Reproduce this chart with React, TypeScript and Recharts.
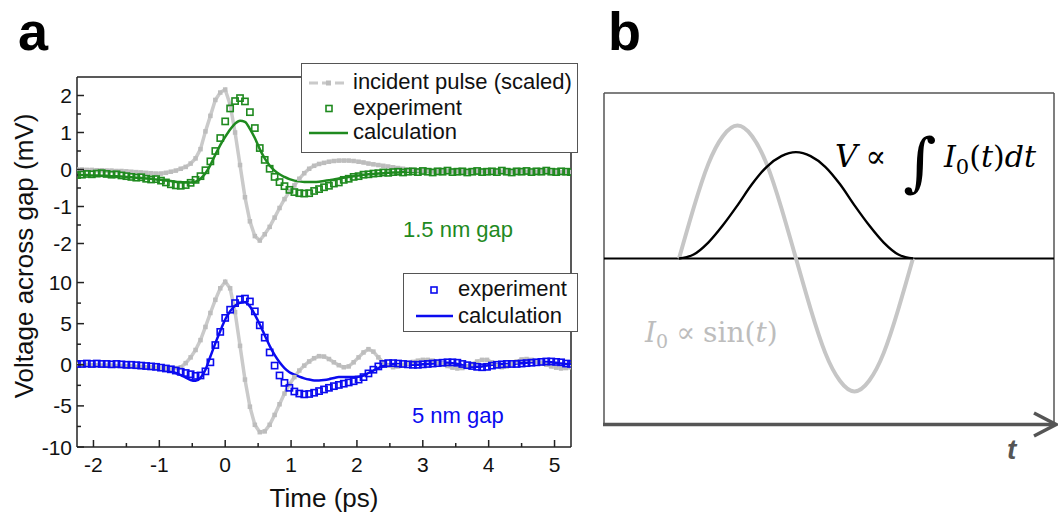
import React from "react";
import { ComposedChart, LineChart, Line, XAxis, YAxis, ReferenceLine, Legend } from "recharts";

const SANS = '"Liberation Sans", Arial, Helvetica, sans-serif';
const MATH = '"DejaVu Serif", "Liberation Serif", serif';
const GREEN = "#1f8a1f";
const BLUE = "#0b0bef";
const GREY_LINE = "#cacaca";
const GREY_DOT = "#bdbdbd";
const INK = "#222";

// time axis shared by all traces of panel a (ps)
const timePs = [
  -2.25, -2.175, -2.1, -2.025, -1.95, -1.875, -1.8, -1.725, -1.65, -1.575,
  -1.5, -1.425, -1.35, -1.275, -1.2, -1.125, -1.05, -0.975, -0.9, -0.825,
  -0.75, -0.675, -0.6, -0.525, -0.45, -0.375, -0.3, -0.225, -0.15, -0.075,
  0, 0.075, 0.15, 0.225, 0.3, 0.375, 0.45, 0.525, 0.6, 0.675,
  0.75, 0.825, 0.9, 0.975, 1.05, 1.125, 1.2, 1.275, 1.35, 1.425,
  1.5, 1.575, 1.65, 1.725, 1.8, 1.875, 1.95, 2.025, 2.1, 2.175,
  2.25, 2.325, 2.4, 2.475, 2.55, 2.625, 2.7, 2.775, 2.85, 2.925,
  3, 3.075, 3.15, 3.225, 3.3, 3.375, 3.45, 3.525, 3.6, 3.675,
  3.75, 3.825, 3.9, 3.975, 4.05, 4.125, 4.2, 4.275, 4.35, 4.425,
  4.5, 4.575, 4.65, 4.725, 4.8, 4.875, 4.95, 5.025, 5.1, 5.175,
  5.25,
];

// 1.5 nm gap (mV)
const incident15 = [
  0, 0, -0.01, -0.01, -0.02, -0.02, -0.03, -0.03, -0.04, -0.04,
  -0.05, -0.06, -0.07, -0.08, -0.09, -0.1, -0.11, -0.11, -0.09, -0.06,
  -0.03, 0.02, 0.07, 0.16, 0.3, 0.55, 1.03, 1.45, 1.88, 2.08,
  2.16, 1.75, 1.0, 0.12, -0.75, -1.4, -1.8, -1.92, -1.75, -1.55,
  -1.3, -1.04, -0.8, -0.6, -0.43, -0.25, -0.1, 0.02, 0.1, 0.15,
  0.18, 0.21, 0.23, 0.24, 0.24, 0.24, 0.23, 0.21, 0.19, 0.16,
  0.14, 0.12, 0.1, 0.08, 0.06, 0.04, 0.02, 0, -0.01, -0.02,
  -0.03, -0.03, -0.04, -0.04, -0.05, -0.05, -0.04, -0.04, -0.05, -0.06,
  -0.05, -0.04, -0.04, -0.05, -0.05, -0.06, -0.06, -0.05, -0.05, -0.04,
  -0.05, -0.06, -0.07, -0.06, -0.05, -0.05, -0.06, -0.07, -0.07, -0.06,
  -0.06,
];
const experiment15 = [
  -0.15, -0.14, -0.12, -0.13, -0.11, -0.1, -0.12, -0.14, -0.13, -0.16,
  -0.18, -0.2, -0.22, -0.21, -0.25, -0.27, -0.26, -0.3, -0.35, -0.4,
  -0.43, -0.44, -0.42, -0.36, -0.28, -0.18, -0.02, 0.22, 0.5, 0.85,
  1.3, 1.65, 1.85, 1.93, 1.84, 1.55, 1.12, 0.58, 0.26, 0.02,
  -0.2, -0.34, -0.45, -0.55, -0.61, -0.64, -0.65, -0.64, -0.58, -0.53,
  -0.48, -0.44, -0.38, -0.35, -0.28, -0.25, -0.2, -0.18, -0.14, -0.13,
  -0.11, -0.1, -0.08, -0.09, -0.07, -0.06, -0.08, -0.06, -0.05, -0.07,
  -0.04, -0.06, -0.08, -0.05, -0.06, -0.03, -0.07, -0.06, -0.05, -0.08,
  -0.06, -0.04, -0.07, -0.06, -0.05, -0.07, -0.03, -0.06, -0.08, -0.05,
  -0.06, -0.04, -0.07, -0.05, -0.06, -0.03, -0.06, -0.07, -0.05, -0.06,
  -0.07,
];
const calculation15 = [
  -0.15, -0.15, -0.15, -0.16, -0.16, -0.17, -0.17, -0.18, -0.18, -0.19,
  -0.2, -0.21, -0.22, -0.23, -0.24, -0.25, -0.27, -0.28, -0.3, -0.31,
  -0.33, -0.34, -0.35, -0.35, -0.33, -0.25, -0.1, 0.12, 0.4, 0.66,
  0.88, 1.08, 1.24, 1.32, 1.29, 1.1, 0.85, 0.55, 0.3, 0.11,
  -0.03, -0.13, -0.2, -0.26, -0.3, -0.32, -0.34, -0.34, -0.34, -0.33,
  -0.31, -0.29, -0.27, -0.24, -0.22, -0.2, -0.18, -0.16, -0.14, -0.13,
  -0.12, -0.11, -0.1, -0.09, -0.08, -0.08, -0.07, -0.07, -0.07, -0.07,
  -0.07, -0.07, -0.07, -0.07, -0.07, -0.07, -0.07, -0.07, -0.07, -0.07,
  -0.07, -0.07, -0.07, -0.07, -0.07, -0.07, -0.07, -0.07, -0.07, -0.07,
  -0.07, -0.07, -0.07, -0.07, -0.07, -0.07, -0.07, -0.07, -0.07, -0.07,
  -0.07,
];

// 5 nm gap (mV)
const incident5 = [
  0, 0, 0, -0.05, -0.05, -0.1, -0.1, -0.1, -0.15, -0.15,
  -0.2, -0.2, -0.25, -0.25, -0.3, -0.3, -0.35, -0.4, -0.45, -0.45,
  -0.4, -0.3, 0.2, 0.9, 1.8, 3.0, 4.6, 6.3, 7.9, 9.3,
  10.1, 9.3, 6.4, 2.3, -1.8, -5.1, -7.3, -8.2, -8.1, -7.3,
  -6.1, -4.8, -3.5, -2.4, -1.5, -0.7, -0.1, 0.4, 0.8, 1.05,
  1.0, 0.7, 0.3, -0.05, -0.3, -0.2, 0.3, 0.9, 1.5, 1.9,
  1.6, 0.9, 0.3, -0.1, -0.3, -0.2, 0, 0.2, 0.35, 0.5,
  0.6, 0.6, 0.5, 0.3, 0.1, -0.15, -0.35, -0.45, -0.4, -0.2,
  0.1, 0.4, 0.6, 0.6, 0.3, -0.1, -0.3, -0.2, 0.1, 0.4,
  0.65, 0.7, 0.6, 0.4, 0.2, 0, -0.2, -0.35, -0.45, -0.4,
  -0.3,
];
const experiment5 = [
  0.1, 0.1, 0.15, 0.1, 0.15, 0.1, 0.1, 0.05, 0.1, 0.05,
  0, 0, -0.05, -0.1, -0.15, -0.2, -0.25, -0.35, -0.45, -0.55,
  -0.7, -0.85, -1.0, -1.15, -1.35, -1.3, -0.8, 0.3, 2.4, 4.0,
  5.7, 6.7, 7.5, 7.95, 8.05, 7.7, 6.5, 4.8, 3.3, 1.5,
  -0.1, -1.3, -2.2, -2.8, -3.25, -3.5, -3.6, -3.55, -3.4, -3.2,
  -3.0, -2.8, -2.6, -2.45, -2.3, -2.15, -2.0, -1.8, -1.5, -1.05,
  -0.6, -0.2, 0.1, 0.2, 0.2, 0.15, 0.1, 0.05, 0, 0,
  0.05, 0.1, 0.15, 0.2, 0.25, 0.3, 0.3, 0.25, 0.1, -0.05,
  -0.15, -0.25, -0.3, -0.25, -0.1, 0, 0.05, 0.1, 0.1, 0.1,
  0.15, 0.2, 0.25, 0.3, 0.35, 0.4, 0.4, 0.35, 0.3, 0.15,
  0.1,
];
const calculation5 = [
  0, 0, 0, 0, 0, -0.05, -0.05, -0.05, -0.1, -0.1,
  -0.15, -0.15, -0.2, -0.25, -0.3, -0.35, -0.45, -0.55, -0.65, -0.8,
  -1.0, -1.25, -1.55, -1.85, -1.95, -1.6, -0.6, 1.0, 2.6, 4.1,
  5.5, 6.5, 7.2, 7.55, 7.6, 7.1, 6.1, 4.9, 3.6, 2.3,
  1.2, 0.3, -0.4, -0.9, -1.2, -1.45, -1.65, -1.8, -1.9, -1.9,
  -1.85, -1.75, -1.6, -1.5, -1.5, -1.5, -1.5, -1.45, -1.3, -1.0,
  -0.7, -0.4, -0.15, 0, 0.1, 0.1, 0.05, 0.05, 0, 0,
  0.05, 0.1, 0.15, 0.2, 0.25, 0.25, 0.2, 0.1, -0.05, -0.15,
  -0.25, -0.25, -0.2, -0.1, 0, 0.05, 0.1, 0.1, 0.1, 0.15,
  0.2, 0.25, 0.3, 0.35, 0.35, 0.35, 0.3, 0.25, 0.15, 0.1,
  0.1,
];

const xTicks = [-2, -1.5, -1, -0.5, 0, 0.5, 1, 1.5, 2, 2.5, 3, 3.5, 4, 4.5, 5];
const yTicksTop = [-2, -1.5, -1, -0.5, 0, 0.5, 1, 1.5, 2];
const yTicksBottom = [-10, -7.5, -5, -2.5, 0, 2.5, 5, 7.5, 10];

// panel b schematic: one period of the current and its integral
const phase = [0, 0.0625, 0.125, 0.1875, 0.25, 0.3125, 0.375, 0.4375, 0.5, 0.5625, 0.625, 0.6875, 0.75, 0.8125, 0.875, 0.9375, 1];
const current = [0, 0.38, 0.71, 0.92, 1, 0.92, 0.71, 0.38, 0, -0.38, -0.71, -0.92, -1, -0.92, -0.71, -0.38, 0];
const voltage = [0, 0.03, 0.12, 0.25, 0.4, 0.56, 0.69, 0.77, 0.8, 0.77, 0.69, 0.56, 0.4, 0.25, 0.12, 0.03, 0];

const topData = timePs.map((t, i) => ({ t, inc: incident15[i], exp: experiment15[i], calc: calculation15[i] }));
const bottomData = timePs.map((t, i) => ({ t, inc: incident5[i], exp: experiment5[i], calc: calculation5[i] }));
const schemeData = phase.map((p, i) => ({ p, cur: current[i], volt: voltage[i] }));

const squareDot = (color: string, filled: boolean, size: number) => (props: any) => {
  const { cx, cy, index } = props;
  if (typeof cx !== "number" || typeof cy !== "number") return <g key={`n${index}`} />;
  const h = size / 2;
  return (
    <rect
      key={`s${index}`}
      x={cx - h}
      y={cy - h}
      width={size}
      height={size}
      fill={filled ? color : "none"}
      stroke={filled ? "none" : color}
      strokeWidth={1.6}
    />
  );
};

// inward ticks, labels outside
const xTick = (showLabel: boolean) => (props: any) => {
  const { x, y, payload, index } = props;
  const major = Number.isInteger(payload.value);
  return (
    <g key={`xt${index}`}>
      <line x1={x} x2={x} y1={y} y2={y - (major ? 7 : 4)} stroke={INK} strokeWidth={1.5} />
      {showLabel && major && (
        <text x={x} y={y + 25} textAnchor="middle" fontSize={21} fontFamily={SANS} fill="#111">
          {payload.value}
        </text>
      )}
    </g>
  );
};

const yTick = (isMajor: (v: number) => boolean) => (props: any) => {
  const { x, y, payload, index } = props;
  const major = isMajor(payload.value);
  return (
    <g key={`yt${index}`}>
      <line x1={x} x2={x + (major ? 7 : 4)} y1={y} y2={y} stroke={INK} strokeWidth={1.5} />
      {major && (
        <text x={x - 5} y={y} dy="0.36em" textAnchor="end" fontSize={21} fontFamily={SANS} fill="#111">
          {payload.value}
        </text>
      )}
    </g>
  );
};

const legendText: React.CSSProperties = {
  position: "absolute",
  fontFamily: SANS,
  fontSize: 22,
  lineHeight: "26px",
  color: "#111",
  whiteSpace: "nowrap",
};

const TopLegend = () => (
  <div style={{ position: "relative", width: 277, height: 90, boxSizing: "border-box", border: "1px solid #555", background: "#fff" }}>
    <svg width={50} height={90} style={{ position: "absolute", left: 0, top: 0 }}>
      <line x1={7} x2={46} y1={19} y2={19} stroke={GREY_LINE} strokeWidth={3} strokeDasharray="9 4" />
      <rect x={24} y={16.5} width={5} height={5} fill={GREY_DOT} />
      <rect x={24} y={41.5} width={6} height={6} fill="none" stroke={GREEN} strokeWidth={1.6} />
      <line x1={7} x2={46} y1={69} y2={69} stroke={GREEN} strokeWidth={2.5} />
    </svg>
    <div style={{ ...legendText, left: 51, top: 5 }}>incident pulse (scaled)</div>
    <div style={{ ...legendText, left: 51, top: 31 }}>experiment</div>
    <div style={{ ...legendText, left: 51, top: 55 }}>calculation</div>
  </div>
);

const BottomLegend = () => (
  <div style={{ position: "relative", width: 175, height: 59, boxSizing: "border-box", border: "1px solid #555", background: "#fff" }}>
    <svg width={55} height={59} style={{ position: "absolute", left: 0, top: 0 }}>
      <rect x={27} y={13} width={6} height={6} fill="none" stroke={BLUE} strokeWidth={1.6} />
      <line x1={12} x2={49} y1={42} y2={42} stroke={BLUE} strokeWidth={2.5} />
    </svg>
    <div style={{ ...legendText, left: 54, top: 2 }}>experiment</div>
    <div style={{ ...legendText, left: 54, top: 29 }}>calculation</div>
  </div>
);

const axisLine = { stroke: INK, strokeWidth: 1.5 };

export default function App() {
  return (
    <div style={{ position: "absolute", left: 0, top: 0, width: 1058, height: 515, background: "#fff", overflow: "hidden" }}>
      {/* panel a, top: 1.5 nm gap */}
      <div style={{ position: "absolute", left: 0, top: 0 }}>
        <ComposedChart width={600} height={270} data={topData} margin={{ top: 77, right: 29, bottom: 8, left: 0 }}>
          <XAxis
            dataKey="t"
            type="number"
            domain={[-2.25, 5.25]}
            allowDataOverflow
            ticks={xTicks}
            interval={0}
            height={0}
            tickSize={0}
            tickMargin={0}
            tickLine={false}
            axisLine={axisLine}
            tick={xTick(false)}
          />
          <YAxis
            type="number"
            domain={[-2.5, 2.5]}
            allowDataOverflow
            ticks={yTicksTop}
            interval={0}
            width={77}
            tickSize={0}
            tickMargin={0}
            tickLine={false}
            axisLine={axisLine}
            tick={yTick((v) => Number.isInteger(v))}
          />
          <ReferenceLine y={2.5} stroke={INK} strokeWidth={1.5} />
          <ReferenceLine x={5.25} stroke={INK} strokeWidth={1.5} />
          <Line dataKey="inc" type="linear" stroke={GREY_LINE} strokeWidth={3.5} dot={squareDot(GREY_DOT, true, 4.5)} activeDot={false} isAnimationActive={false} />
          <Line dataKey="calc" type="monotone" stroke={GREEN} strokeWidth={2.5} dot={false} activeDot={false} isAnimationActive={false} />
          <Line dataKey="exp" type="linear" stroke="none" dot={squareDot(GREEN, false, 6.2)} activeDot={false} isAnimationActive={false} />
          <Legend
            layout="vertical"
            align="center"
            verticalAlign="middle"
            wrapperStyle={{ left: 301, top: 63, width: 277, height: 90 }}
            content={() => <TopLegend />}
          />
        </ComposedChart>
      </div>

      {/* panel a, bottom: 5 nm gap */}
      <div style={{ position: "absolute", left: 0, top: 262 }}>
        <ComposedChart width={600} height={253} data={bottomData} margin={{ top: 0, right: 29, bottom: 0, left: 0 }}>
          <XAxis
            dataKey="t"
            type="number"
            domain={[-2.25, 5.25]}
            allowDataOverflow
            ticks={xTicks}
            interval={0}
            height={68}
            tickSize={0}
            tickMargin={0}
            tickLine={false}
            axisLine={axisLine}
            tick={xTick(true)}
            label={{ value: "Time (ps)", position: "insideBottom", offset: 8, fontSize: 26, fontFamily: SANS, fill: "#111" }}
          />
          <YAxis
            type="number"
            domain={[-10, 12.5]}
            allowDataOverflow
            ticks={yTicksBottom}
            interval={0}
            width={77}
            tickSize={0}
            tickMargin={0}
            tickLine={false}
            axisLine={axisLine}
            tick={yTick((v) => v % 5 === 0)}
          />
          <ReferenceLine x={5.25} stroke={INK} strokeWidth={1.5} />
          <Line dataKey="inc" type="linear" stroke={GREY_LINE} strokeWidth={3.5} dot={squareDot(GREY_DOT, true, 4.5)} activeDot={false} isAnimationActive={false} />
          <Line dataKey="calc" type="monotone" stroke={BLUE} strokeWidth={2.5} dot={false} activeDot={false} isAnimationActive={false} />
          <Line dataKey="exp" type="linear" stroke="none" dot={squareDot(BLUE, false, 6.2)} activeDot={false} isAnimationActive={false} />
          <Legend
            layout="vertical"
            align="center"
            verticalAlign="middle"
            wrapperStyle={{ left: 403, top: 11, width: 175, height: 59 }}
            content={() => <BottomLegend />}
          />
        </ComposedChart>
      </div>

      {/* panel b: schematic */}
      <div style={{ position: "absolute", left: 594, top: 83 }}>
        <LineChart width={470} height={351} data={schemeData} margin={{ top: 10, right: 10, bottom: 10, left: 10 }}>
          <XAxis dataKey="p" type="number" domain={[-0.3205, 1.6026]} allowDataOverflow hide />
          <YAxis type="number" domain={[-1.245, 1.245]} allowDataOverflow hide />
          <ReferenceLine x={-0.3205} stroke="#555" strokeWidth={1.5} />
          <ReferenceLine x={1.6026} stroke="#555" strokeWidth={1.5} />
          <ReferenceLine y={1.245} stroke="#555" strokeWidth={1.5} />
          <ReferenceLine y={0} stroke="#000" strokeWidth={2.2} />
          <Line dataKey="cur" type="natural" stroke="#c6c6c6" strokeWidth={4} dot={false} activeDot={false} isAnimationActive={false} />
          <Line dataKey="volt" type="monotone" stroke="#000" strokeWidth={2.4} dot={false} activeDot={false} isAnimationActive={false} />
        </LineChart>
      </div>

      {/* texts and arrow */}
      <svg width={1058} height={515} style={{ position: "absolute", left: 0, top: 0, pointerEvents: "none" }}>
        <text x={18} y={50} fontSize={54} fontWeight="bold" fontFamily={SANS} fill="#000">a</text>
        <text x={608} y={50} fontSize={54} fontWeight="bold" fontFamily={SANS} fill="#000">b</text>
        <text transform="translate(33,256) rotate(-90)" textAnchor="middle" fontSize={26} fontFamily={SANS} fill="#111">
          Voltage across gap (mV)
        </text>
        <text x={403} y={237} fontSize={22} fontFamily={SANS} fill={GREEN}>1.5 nm gap</text>
        <text x={412} y={423} fontSize={22} fontFamily={SANS} fill={BLUE}>5 nm gap</text>

        <text x={835} y={167} fontSize={31} fontFamily={MATH} fill="#000">
          <tspan fontStyle="italic">V</tspan>
          <tspan dx={8}>∝</tspan>
        </text>
        <text x={903} y={184} fontSize={64} fontFamily={MATH} fill="#000">∫</text>
        <text x={944} y={167} fontSize={30} fontFamily={MATH} fill="#000">
          <tspan fontStyle="italic">I</tspan>
          <tspan fontSize={21} dy={7}>0</tspan>
          <tspan dy={-7}>(</tspan>
          <tspan fontStyle="italic">t</tspan>
          <tspan>)</tspan>
          <tspan fontStyle="italic">dt</tspan>
        </text>
        <text x={645} y={342} fontSize={28} fontFamily={MATH} fill="#bdbdbd">
          <tspan fontStyle="italic">I</tspan>
          <tspan fontSize={19} dy={6}>0</tspan>
          <tspan dy={-6} dx={8}>∝</tspan>
          <tspan dx={8}>sin(</tspan>
          <tspan fontStyle="italic">t</tspan>
          <tspan>)</tspan>
        </text>

        <line x1={603} x2={1055} y1={424.5} y2={424.5} stroke="#555" strokeWidth={3.5} />
        <polyline points="1034,413 1056,424.5 1034,436" fill="none" stroke="#555" strokeWidth={3.5} />
        <text x={1007} y={459} fontSize={28} fontWeight="bold" fontStyle="italic" fontFamily={SANS} fill="#555">t</text>
      </svg>
    </div>
  );
}
